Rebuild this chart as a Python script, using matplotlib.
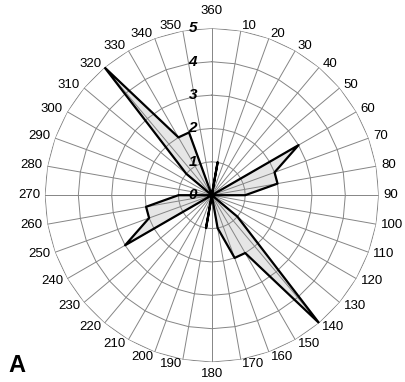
import matplotlib.pyplot as plt
import numpy as np

plt.rcParams['font.family'] = ['Liberation Sans', 'DejaVu Sans']

# Data: count per 10 degree direction class (Excel-style radar)
directions = np.arange(0, 360, 10)
counts = [0, 1, 0, 0, 0, 0, 3, 2, 2, 1, 0, 0,
          0, 1, 5, 2, 2, 1, 0, 1, 0, 0, 0, 0,
          3, 2, 2, 1, 0, 0, 0, 1, 5, 2, 2, 0]
ring_values = [0, 1, 2, 3, 4, 5]
dir_labels = ['360'] + [str(d) for d in directions[1:]]

fig = plt.figure(figsize=(4.05, 3.82), dpi=100)
ax = fig.add_axes([0.111, 0.052, 0.824, 0.874], projection='polar')
ax.set_theta_zero_location('N')
ax.set_theta_direction(-1)
ax.set_ylim(0, 5)
ax.axis('off')

theta = np.deg2rad(directions)
theta_c = np.append(theta, theta[0])
counts_c = np.append(counts, counts[0])

# filled area under the grid
ax.fill(theta_c, counts_c, color='#e6e6e6', zorder=1)

# polygon grid rings and spokes
for r in ring_values[1:]:
    ax.plot(theta_c, [r] * len(theta_c), color='#858585', linewidth=0.7, zorder=2)
for t in theta:
    ax.plot([t, t], [0, 5], color='#858585', linewidth=0.7, zorder=2)

# outline
ax.plot(theta_c, counts_c, color='black', linewidth=1.6, zorder=3)

# direction labels, anchored just outside the outer ring like Excel does
for t, lab in zip(theta, dir_labels):
    s, c = np.sin(t), np.cos(t)
    if abs(s) < 0.05:
        ha = 'center'
        va = 'bottom' if c > 0 else 'top'
        gap = 11 if c > 0 else 6
    else:
        ha = 'left' if s > 0 else 'right'
        va = 'center'
        gap = 5
    ax.annotate(lab, xy=(t, 5), xytext=(gap * s, gap * c), textcoords='offset pixels',
                ha=ha, va=va, fontsize=9.5)

# radial labels
for r in ring_values:
    ax.annotate(str(r), xy=(0, r), xytext=(-19, 0), textcoords='offset pixels',
                ha='center', va='center', fontsize=11, fontweight='bold',
                fontstyle='italic', zorder=4)

fig.text(0.02, 0.026, 'A', ha='left', va='baseline', fontsize=17, fontweight='bold')

fig.savefig('out.png', dpi=100)
